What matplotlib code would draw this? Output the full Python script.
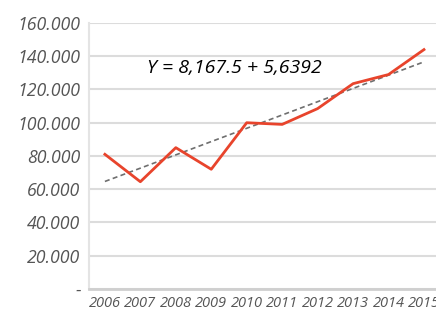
import numpy as np
import matplotlib
matplotlib.use("Agg")
import matplotlib.pyplot as plt
from matplotlib.ticker import FuncFormatter

years = ["2006", "2007", "2008", "2009", "2010", "2011", "2012", "2013", "2014", "2015"]
values = [81000, 64500, 85000, 72000, 100000, 99000, 108500, 123500, 129000, 144000]
y_ticks = [0, 20000, 40000, 60000, 80000, 100000, 120000, 140000, 160000]
equation = "Y = 8,167.5 + 5,6392"

plt.rcParams["font.family"] = ["Open Sans", "DejaVu Sans"]
plt.rcParams["font.style"] = "italic"

x = np.arange(len(years))
slope, intercept = np.polyfit(x, values, 1)
trend = slope * x + intercept

fig = plt.figure(figsize=(4.36, 3.11), dpi=100)
ax = fig.add_axes([0.204, 0.071, 0.805, 0.855])

ax.plot(x, values, color="#e8442c", linewidth=2.0, zorder=3)
ax.plot([x[0], x[-1]], [trend[0], trend[-1]], color="#6f6f6f", linewidth=1.2,
        linestyle=(0, (3, 2)), zorder=2)

ax.set_xlim(-0.45, 9.45)
ax.set_ylim(0, 160000)
ax.set_yticks(y_ticks)
ax.yaxis.set_major_formatter(FuncFormatter(
    lambda v, p: "-" if v == 0 else "{:,.3f}".format(v / 1000).replace(",", ".")))
ax.set_xticks(x)
ax.set_xticklabels(years)

ax.grid(axis="y", color="#dcdcdc", linewidth=1.5)
ax.set_axisbelow(True)
for s in ["top", "right"]:
    ax.spines[s].set_visible(False)
ax.spines["left"].set_color("#e4e4e4")
ax.spines["left"].set_linewidth(1.5)
ax.spines["bottom"].set_color("#cfcfcf")
ax.spines["bottom"].set_linewidth(2.0)

ax.tick_params(axis="y", length=0, pad=6, labelsize=12.8, labelcolor="#555555")
ax.tick_params(axis="x", length=0, pad=5, labelsize=10.5, labelcolor="#555555")

ax.text(0.165, 0.831, equation, transform=ax.transAxes, fontsize=14,
        color="#000000", va="center", ha="left")

fig.savefig("out.png", dpi=100)
